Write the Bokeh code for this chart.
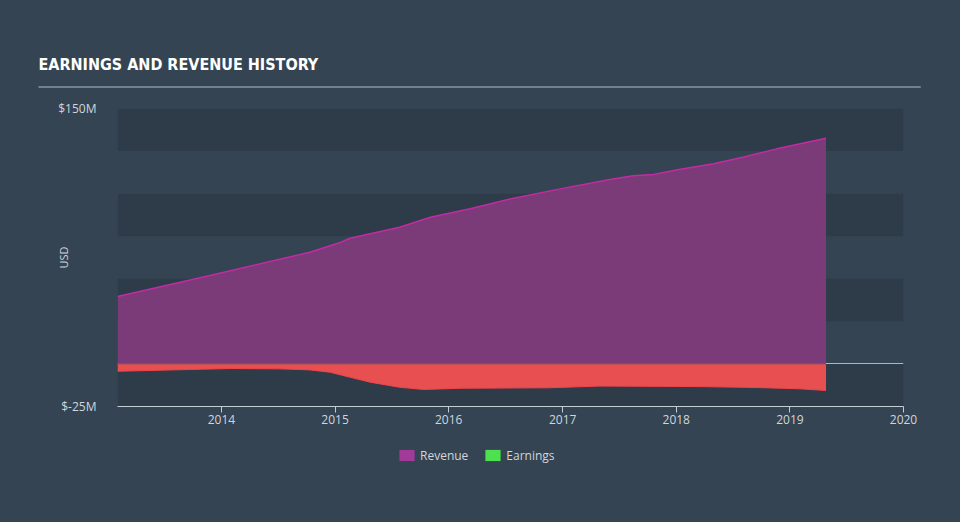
import pandas as pd
from datetime import datetime
from bokeh.plotting import figure
from bokeh.layouts import column
from bokeh.models import (Range1d, FixedTicker, DatetimeTickFormatter, Title, BoxAnnotation,
                          Legend, LegendItem, ColumnDataSource)
from bokeh.embed import file_html
from bokeh.resources import INLINE

# ---- data (USD millions) ----
revenue_dates = ["2013-02-01", "2013-11-25", "2014-10-12", "2015-01-20", "2015-02-18", "2015-07-27",
                 "2015-11-03", "2016-03-10", "2016-07-16", "2016-12-24", "2017-06-02", "2017-08-15",
                 "2017-10-20", "2018-01-05", "2018-05-01", "2018-08-03", "2018-11-20", "2019-04-27"]
revenue = [39.6, 51.9, 65.6, 71.5, 73.8, 80.3, 86.1, 91.1, 96.9, 102.8, 108.3, 110.5,
           111.2, 114.0, 117.5, 121.4, 126.3, 132.5]

earnings_dates = ["2013-02-01", "2013-10-27", "2014-01-30", "2014-07-08", "2014-10-12", "2014-12-16",
                  "2015-02-18", "2015-04-23", "2015-07-27", "2015-10-12", "2016-02-06", "2016-11-20",
                  "2017-05-01", "2018-03-18", "2018-09-26", "2019-02-02", "2019-04-27"]
earnings = [-4.3, -3.1, -2.7, -2.9, -3.5, -4.9, -7.8, -10.7, -13.7, -15.0, -14.3, -14.0,
            -13.0, -13.3, -13.9, -14.6, -15.6]

title_text = "EARNINGS AND REVENUE HISTORY"
series_names = ["Revenue", "Earnings"]
year_ticks = [2014, 2015, 2016, 2017, 2018, 2019, 2020]
y_ticks = [-25, 150]
y_tick_labels = ["$-25M", "$150M"]
band_edges = [(125, 150), (75, 100), (25, 50), (-25, 0)]

BG = "#344452"
BAND = "#2e3c4a"
AXIS = "#c4ccd4"
TEXT = "#d0d6dc"
FONT = "Open Sans"
TITLE_FONT = "'Liberation Sans Narrow', 'DejaVu Sans Condensed', 'Roboto Condensed', Roboto, sans-serif"
MAIN_H = 440

rev_src = ColumnDataSource(dict(x=pd.to_datetime(revenue_dates), y=revenue, z=[0] * len(revenue)))
ear_src = ColumnDataSource(dict(x=pd.to_datetime(earnings_dates), y=earnings, z=[0] * len(earnings)))

p = figure(width=960, height=MAIN_H, output_backend="svg", toolbar_location=None,
           x_axis_type="datetime",
           x_range=Range1d(datetime(2013, 2, 1), datetime(2020, 1, 1)),
           y_range=Range1d(-25, 150),
           min_border_left=117, min_border_right=57, min_border_top=108,
           min_border_bottom=MAIN_H - 406)
p.background_fill_color = BG
p.border_fill_color = BG
p.outline_line_color = None
p.xgrid.visible = False
p.ygrid.visible = False

for lo, hi in band_edges:
    p.add_layout(BoxAnnotation(bottom=lo, top=hi, fill_color=BAND, fill_alpha=1.0,
                               line_color=None, level="underlay"))
p.hspan(y=[0], line_color="#aeb6be", line_width=1)

p.varea(x="x", y1="z", y2="y", source=rev_src, fill_color="#7b3a78", fill_alpha=1.0)
p.line(x="x", y="y", source=rev_src, line_color="#c22ba3", line_width=1.5)
p.varea(x="x", y1="y", y2="z", source=ear_src, fill_color="#e84f51", fill_alpha=1.0)
p.line(x="x", y="y", source=ear_src, line_color="#f0444a", line_width=1)
p.line(x="x", y="z", source=ear_src, line_color="#8c5555", line_width=1)

# x axis
xa = p.xaxis[0]
xa.ticker = FixedTicker(ticks=[datetime(yr, 1, 1).timestamp() * 1000 for yr in year_ticks])
xa.formatter = DatetimeTickFormatter(years="%Y", months="%Y", days="%Y", hours="%Y")
xa.axis_line_color = AXIS
xa.major_tick_line_color = AXIS
xa.major_tick_out = 6
xa.major_tick_in = 0
xa.minor_tick_line_color = None
xa.major_label_text_color = TEXT
xa.major_label_text_font = FONT
xa.major_label_text_font_size = "12px"
xa.major_label_standoff = 2

# y axis
ya = p.yaxis[0]
ya.ticker = FixedTicker(ticks=y_ticks)
ya.major_label_overrides = {t: lab for t, lab in zip(y_ticks, y_tick_labels)}
ya.axis_line_color = None
ya.major_tick_line_color = None
ya.minor_tick_line_color = None
ya.major_label_text_color = TEXT
ya.major_label_text_font = FONT
ya.major_label_text_font_size = "12px"
ya.major_label_standoff = 15
ya.axis_label = "USD"
ya.axis_label_text_color = TEXT
ya.axis_label_text_font = FONT
ya.axis_label_text_font_size = "11px"
ya.axis_label_text_font_style = "normal"
ya.axis_label_standoff = -16

# header: rule (blank title with a filled background) then the heading text
rule = Title(text=" ", text_font_size="1px", align="left", offset=-79, standoff=42,
             background_fill_color="#b4bcc4", padding=(0, 882, 0, 0))
p.add_layout(rule, "above")
heading = Title(text=title_text, align="left", offset=-79, standoff=-20,
                text_color="#ffffff", text_font=TITLE_FONT, text_font_style="bold",
                text_font_size="16px")
p.add_layout(heading, "above")

# ---- legend strip ----
LEG_H = 522 - MAIN_H
lg = figure(width=960, height=LEG_H, output_backend="svg", toolbar_location=None,
            x_range=Range1d(0, 1), y_range=Range1d(0, 1),
            min_border_left=117, min_border_right=57, min_border_top=0, min_border_bottom=0)
lg.axis.visible = False
lg.grid.visible = False
lg.outline_line_color = None
lg.background_fill_color = BG
lg.border_fill_color = BG
sw_rev = lg.varea(x=[5, 6], y1=[0, 0], y2=[1, 1], fill_color="#a23a9a")
sw_ear = lg.varea(x=[5, 6], y1=[0, 0], y2=[1, 1], fill_color="#4de04f")
legend = Legend(items=[LegendItem(label=series_names[0], renderers=[sw_rev]),
                       LegendItem(label=series_names[1], renderers=[sw_ear])],
                orientation="horizontal", location=(280, LEG_H - 9.5 - 14),
                glyph_width=19, glyph_height=14, label_height=14, label_standoff=4,
                spacing=15, padding=0, margin=0,
                label_text_color=TEXT, label_text_font=FONT, label_text_font_size="12px",
                background_fill_alpha=0, border_line_color=None)
lg.add_layout(legend, "center")

layout = column(p, lg, spacing=0, styles={"background-color": BG})
open("out.html", "w").write(file_html(layout, INLINE))
